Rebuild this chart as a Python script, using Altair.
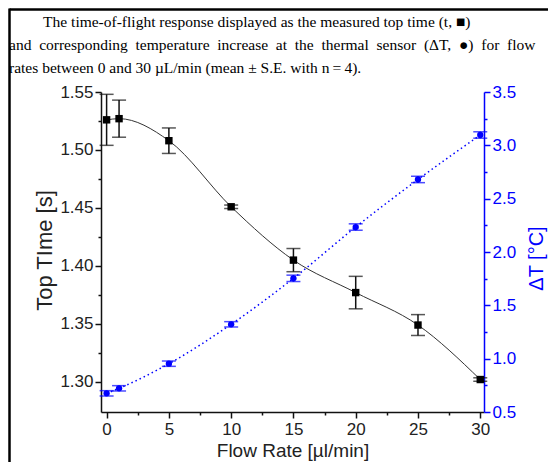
import altair as alt
import pandas as pd

# ---- data ----
flow = [0, 1, 5, 10, 15, 20, 25, 30]
top_time = [1.526, 1.527, 1.508, 1.451, 1.405, 1.377, 1.349, 1.302]
top_err = [0.022, 0.016, 0.011, 0.0015, 0.010, 0.014, 0.009, 0.0015]
delta_t = [0.675, 0.722, 0.953, 1.322, 1.753, 2.234, 2.680, 3.097]
delta_err = [0.025, 0.025, 0.025, 0.025, 0.03, 0.03, 0.03, 0.03]

x_ticks = [i * 2.5 for i in range(13)]
left_ticks = [round(1.30 + i * 0.025, 3) for i in range(11)]
right_ticks = [round(0.5 + i * 0.25, 2) for i in range(13)]

# caption: the middle line is justified in the reference, so its word gaps are widened
line2_words = ["and", "corresponding", "temperature", "increase", "at", "the", "thermal",
               "sensor", "(\u0394T,", "\u25CF)", "for", "flow"]
caption = [
    "\u200b" + "\u00A0" * 8 + "\u2009The time-of-flight response displayed as the measured top time (t, \u25A0)",
    " \u00A0".join(line2_words),
    "rates between 0 and 30 \u00B5L/min (mean \u00B1 S.E. with n\u2009=\u20094).",
]

df = pd.DataFrame({
    "flow": flow,
    "t": top_time,
    "t_lo": [a - b for a, b in zip(top_time, top_err)],
    "t_hi": [a + b for a, b in zip(top_time, top_err)],
    "d": delta_t,
    "d_lo": [a - b for a, b in zip(delta_t, delta_err)],
    "d_hi": [a + b for a, b in zip(delta_t, delta_err)],
})

FONT = "Liberation Sans"
BLACK = "#111111"
BLUE = "#0000ff"

x_axis = alt.Axis(
    title="Flow Rate [\u00B5l/min]", values=x_ticks,
    labelExpr="datum.value % 5 == 0 ? format(datum.value, 'd') : ''",
    tickSize={"condition": {"test": "datum.value % 5 != 0", "value": 3}, "value": 6},
    labelFont=FONT, labelFontSize=17, labelColor="#222222", labelPadding=3,
    titleFont=FONT, titleFontSize=19, titleFontWeight="normal", titleColor="#222222",
    titlePadding=4, domainColor=BLACK, domainWidth=1.5, tickColor=BLACK, tickWidth=1.5,
    grid=False,
)
x_enc = alt.X("flow:Q", scale=alt.Scale(domain=[-0.45, 30.3], nice=False, zero=False), axis=x_axis)

left_axis = alt.Axis(
    title="Top TIme [s]", orient="left", values=left_ticks,
    labelExpr="abs(round(datum.value * 1000) % 50) == 0 ? format(datum.value, '.2f') : ''",
    tickSize={"condition": {"test": "abs(round(datum.value * 1000) % 50) != 0", "value": 3}, "value": 6},
    labelFont=FONT, labelFontSize=17, labelColor="#222222", labelPadding=2,
    titleFont=FONT, titleFontSize=22, titleFontWeight="normal", titleColor="#222222",
    titleX=-57, titleY=158, titleBaseline="middle", titleAlign="center",
    domainColor=BLACK, domainWidth=1.5, tickColor=BLACK, tickWidth=1.5,
    grid=False,
)
y_left = alt.Scale(domain=[1.274, 1.55], nice=False, zero=False)

right_axis = alt.Axis(
    title="\u0394T [\u00B0C]", orient="right", values=right_ticks,
    labelExpr="abs(round(datum.value * 100) % 50) == 0 ? format(datum.value, '.1f') : ''",
    tickSize={"condition": {"test": "abs(round(datum.value * 100) % 50) != 0", "value": 3}, "value": 6},
    labelFont=FONT, labelFontSize=17, labelColor=BLUE, labelPadding=2,
    titleFont=FONT, titleFontSize=20, titleFontWeight="normal", titleColor=BLUE,
    titleAngle=270, titleX=52, titleY=166, titleBaseline="middle", titleAlign="center",
    domainColor=BLUE, domainWidth=1.5, tickColor=BLUE, tickWidth=1.5,
    grid=False,
)
y_right = alt.Scale(domain=[0.5, 3.5], nice=False, zero=False)

base = alt.Chart(df)

# black series: top time
t_line = base.mark_line(color="#333333", strokeWidth=1, interpolate="monotone").encode(
    x=x_enc, y=alt.Y("t:Q", scale=y_left, axis=left_axis))
t_bar = base.mark_rule(color=BLACK, strokeWidth=1.5).encode(
    x=x_enc, y=alt.Y("t_lo:Q", scale=y_left, axis=None), y2="t_hi:Q")
t_cap_lo = base.mark_tick(color=BLACK, orient="horizontal", size=14, thickness=1.5).encode(
    x=x_enc, y=alt.Y("t_lo:Q", scale=y_left, axis=None))
t_cap_hi = base.mark_tick(color=BLACK, orient="horizontal", size=14, thickness=1.5).encode(
    x=x_enc, y=alt.Y("t_hi:Q", scale=y_left, axis=None))
t_pts = base.mark_point(shape="square", filled=True, size=55, color="#000000", opacity=1).encode(
    x=x_enc, y=alt.Y("t:Q", scale=y_left, axis=None))

# blue series: temperature increase
d_line = base.mark_line(color=BLUE, strokeWidth=1.5, strokeDash=[1.5, 3], interpolate="monotone").encode(
    x=x_enc, y=alt.Y("d:Q", scale=y_right, axis=right_axis))
d_bar = base.mark_rule(color=BLUE, strokeWidth=1.5).encode(
    x=x_enc, y=alt.Y("d_lo:Q", scale=y_right, axis=None), y2="d_hi:Q")
d_cap_lo = base.mark_tick(color=BLUE, orient="horizontal", size=14, thickness=1.5).encode(
    x=x_enc, y=alt.Y("d_lo:Q", scale=y_right, axis=None))
d_cap_hi = base.mark_tick(color=BLUE, orient="horizontal", size=14, thickness=1.5).encode(
    x=x_enc, y=alt.Y("d_hi:Q", scale=y_right, axis=None))
d_pts = base.mark_point(shape="circle", filled=True, size=40, color=BLUE, opacity=1).encode(
    x=x_enc, y=alt.Y("d:Q", scale=y_right, axis=None))

# figure frame (top and left border lines)
frame = alt.Chart(alt.Data(values=[{}])).mark_rule(color="#000000", strokeWidth=2.5).encode(
    x=alt.value(-91.5), x2=alt.value(447), y=alt.value(-82.5))
frame2 = alt.Chart(alt.Data(values=[{}])).mark_rule(color="#000000", strokeWidth=2.5).encode(
    x=alt.value(-91.5), y=alt.value(-83.5), y2=alt.value(400))

chart = alt.layer(
    t_line, d_line, t_bar, t_cap_lo, t_cap_hi, t_pts,
    d_bar, d_cap_lo, d_cap_hi, d_pts, frame, frame2,
).resolve_scale(y="independent").properties(
    width=383, height=320,
    autosize=alt.AutoSizeParams(type="none"),
    padding={"left": 93, "top": 84, "right": 66, "bottom": 50},
    title=alt.TitleParams(
        text=caption, anchor="start", frame="group", dx=-92, dy=69,
        font="Liberation Serif", fontSize=15.5, fontWeight="normal", color="#000000",
        lineHeight=23, baseline="top", offset=0,
    ),
).configure_view(stroke=None)

chart.save("out.html", embed_options={"renderer": "svg", "actions": False})
